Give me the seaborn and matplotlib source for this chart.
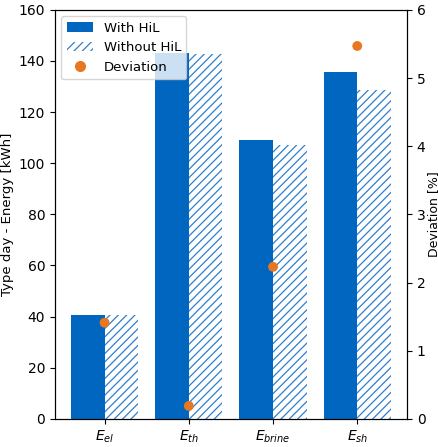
import numpy as np
import pandas as pd
import matplotlib
matplotlib.use("Agg")
import matplotlib.pyplot as plt
import seaborn as sns
from matplotlib.patches import Patch
from matplotlib.lines import Line2D

plt.rcParams['font.size'] = 9.5
plt.rcParams['xtick.labelsize'] = 10
plt.rcParams['ytick.labelsize'] = 10
plt.rcParams['hatch.linewidth'] = 0.9

# Datos
categorias = [r"$E_{el}$", r"$E_{th}$", r"$E_{brine}$", r"$E_{sh}$"]
con_hil = [40.5, 143.0, 109.2, 135.6]
sin_hil = [40.8, 142.8, 107.2, 128.5]
desviacion = [1.41, 0.19, 2.23, 5.47]

azul = "#0066c0"
azul_hatch = "#2f7fcc"
naranja = "#e87722"

df = pd.DataFrame({
    "cat": categorias * 2,
    "valor": con_hil + sin_hil,
    "serie": ["With HiL"] * len(categorias) + ["Without HiL"] * len(categorias),
})

fig, ax = plt.subplots(figsize=(4.39, 4.47), dpi=100)
sns.barplot(data=df, x="cat", y="valor", hue="serie", order=categorias,
            hue_order=["With HiL", "Without HiL"], palette=[azul, azul],
            width=0.8, saturation=1, legend=False, ax=ax)

n = len(categorias)
for i, p in enumerate(ax.patches[:2 * n]):
    if i >= n:
        p.set_facecolor("white")
        p.set_edgecolor(azul_hatch)
        p.set_hatch("////")
    p.set_linewidth(0)

ax.set_ylim(0, 160)
ax.set_xlabel("")
ax.set_ylabel("Type day - Energy [kWh]", labelpad=3)

ax2 = ax.twinx()
sns.scatterplot(x=np.arange(n), y=desviacion, color=naranja, s=50,
                edgecolor="none", ax=ax2, zorder=5)
ax2.set_ylim(0, 6)
ax2.set_ylabel("Deviation [%]", labelpad=1, fontsize=9)

handles = [
    Patch(facecolor=azul, edgecolor="none", label="With HiL"),
    Patch(facecolor="white", edgecolor=azul_hatch, hatch="////", linewidth=0, label="Without HiL"),
    Line2D([], [], marker="o", linestyle="none", color=naranja, markersize=7, label="Deviation"),
]
ax2.legend(handles=handles, loc="upper left", handlelength=2.0, fontsize=9.5)

fig.subplots_adjust(left=0.125, right=0.927, top=0.978, bottom=0.063)
plt.savefig("out.png", dpi=100)
plt.close()
